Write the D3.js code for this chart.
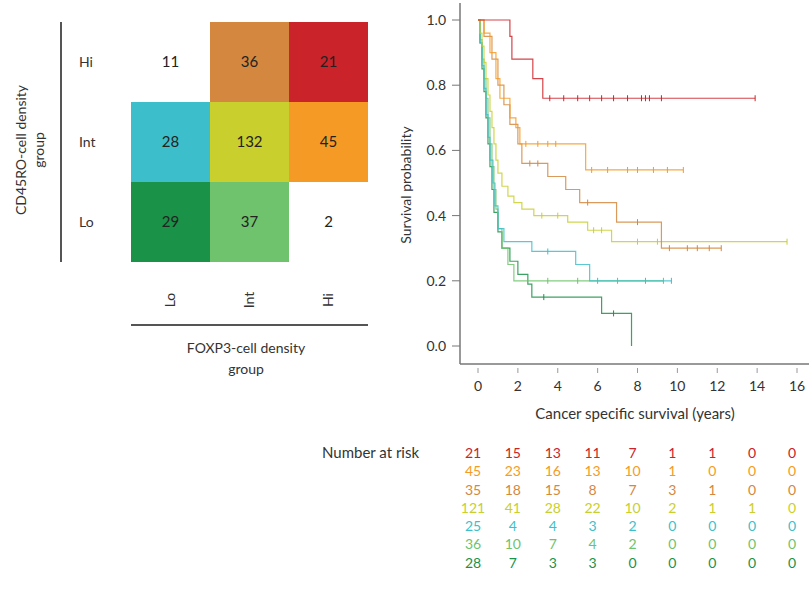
<!DOCTYPE html>
<html>
<head>
<meta charset="utf-8">
<script src="https://cdn.jsdelivr.net/npm/d3@7"></script>
<style>
  body { margin: 0; background: #fff; }
  text { font-family: Lato, "Open Sans", sans-serif; fill: #333; }
</style>
</head>
<body>
<svg id="chart" width="809" height="600"></svg>
<script>
// heatmap data
const foxp3Groups = ["Lo", "Int", "Hi"];
const cd45Groups = ["Hi", "Int", "Lo"];
// counts[row][col], rows = CD45RO Hi/Int/Lo, cols = FOXP3 Lo/Int/Hi
const counts = [
  [11, 36, 21],
  [28, 132, 45],
  [29, 37, 2]
];
// which cells have a survival curve
const cellKeys = [
  ["", "HiInt", "HiHi"],
  ["IntLo", "IntInt", "IntHi"],
  ["LoLo", "LoInt", ""]
];

// survival curves: [time, survival] steps
const kmHiHi = [[0,1],[1.6,0.95],[1.7,0.88],[2.75,0.82],[3.25,0.76]];
const kmIntHi = [[0,1],[0.3,0.96],[0.6,0.9],[0.9,0.82],[1.1,0.76],[1.6,0.70],[1.9,0.67],[2.1,0.62],[5.4,0.54]];
const kmHiInt = [[0,1],[0.3,0.95],[0.7,0.88],[1.0,0.80],[1.3,0.74],[1.6,0.68],[2.0,0.62],[2.2,0.56],[3.5,0.52],[4.4,0.48],[5.1,0.44],[6.95,0.38],[9.2,0.30]];
const kmIntInt = [[0,1],[0.1,0.96],[0.2,0.92],[0.3,0.87],[0.4,0.82],[0.5,0.77],[0.6,0.72],[0.7,0.67],[0.8,0.62],[0.9,0.57],[1.0,0.53],[1.2,0.49],[1.5,0.46],[1.8,0.44],[2.2,0.42],[2.8,0.40],[4.5,0.38],[5.5,0.355],[6.7,0.32]];
const kmIntLo = [[0,1],[0.1,0.93],[0.2,0.86],[0.3,0.79],[0.4,0.71],[0.5,0.64],[0.6,0.57],[0.75,0.50],[0.85,0.43],[1.0,0.36],[1.3,0.32],[2.7,0.29],[4.9,0.25],[5.6,0.20]];
const kmLoInt = [[0,1],[0.1,0.94],[0.2,0.88],[0.3,0.82],[0.4,0.76],[0.5,0.70],[0.6,0.62],[0.7,0.55],[0.8,0.48],[0.9,0.42],[1.0,0.36],[1.2,0.30],[1.5,0.25],[1.8,0.20]];
const kmLoLo = [[0,1],[0.1,0.93],[0.2,0.85],[0.3,0.78],[0.4,0.70],[0.5,0.62],[0.6,0.55],[0.7,0.48],[0.8,0.41],[1.0,0.35],[1.2,0.30],[1.6,0.26],[2.0,0.22],[2.5,0.19],[2.7,0.15],[6.2,0.10],[7.7,0.0]];

const kmEnd = { HiHi: 13.9, IntHi: 10.3, HiInt: 12.2, IntInt: 15.5, IntLo: 9.7, LoInt: 9.3, LoLo: 7.7 };
const censors = {
  HiHi: [3.6, 4.3, 5.0, 5.6, 6.2, 6.8, 7.5, 8.2, 8.4, 8.6, 9.2, 13.9],
  IntHi: [2.4, 3.0, 3.5, 3.9, 5.7, 6.5, 7.5, 8.0, 8.8, 9.5, 10.3],
  HiInt: [2.6, 3.0, 5.5, 8.0, 9.6, 10.5, 11.0, 11.6, 12.2],
  IntInt: [3.2, 4.0, 5.8, 6.2, 8.0, 9.0, 15.5],
  IntLo: [3.5, 6.0, 8.4, 9.7],
  LoInt: [3.5, 5.0, 7.0, 9.3],
  LoLo: [3.3, 6.8]
};

// number at risk table
const riskTimes = [0, 2, 4, 6, 8, 10, 12, 14, 16];
const riskOrder = ["HiHi", "IntHi", "HiInt", "IntInt", "IntLo", "LoInt", "LoLo"];
const riskHiHi = [21, 15, 13, 11, 7, 1, 1, 0, 0];
const riskIntHi = [45, 23, 16, 13, 10, 1, 0, 0, 0];
const riskHiInt = [35, 18, 15, 8, 7, 3, 1, 0, 0];
const riskIntInt = [121, 41, 28, 22, 10, 2, 1, 1, 0];
const riskIntLo = [25, 4, 4, 3, 2, 0, 0, 0, 0];
const riskLoInt = [36, 10, 7, 4, 2, 0, 0, 0, 0];
const riskLoLo = [28, 7, 3, 3, 0, 0, 0, 0, 0];

const yTicks = [0, 0.2, 0.4, 0.6, 0.8, 1.0];
const xTicks = [0, 2, 4, 6, 8, 10, 12, 14, 16];

// colours per group
const colors = {
  HiHi: "#cb232a",
  IntHi: "#f59b25",
  HiInt: "#d4883f",
  IntInt: "#c9cf2d",
  IntLo: "#3dbfcb",
  LoInt: "#6ec36c",
  LoLo: "#1a9248"
};

const curves = { HiHi: kmHiHi, IntHi: kmIntHi, HiInt: kmHiInt, IntInt: kmIntInt, IntLo: kmIntLo, LoInt: kmLoInt, LoLo: kmLoLo };
const risks = { HiHi: riskHiHi, IntHi: riskIntHi, HiInt: riskHiInt, IntInt: riskIntInt, IntLo: riskIntLo, LoInt: riskLoInt, LoLo: riskLoLo };

const svg = d3.select("#chart");

// ===== heatmap =====
const hx = d3.scaleBand().domain(foxp3Groups).range([131, 368]);
const hy = d3.scaleBand().domain(cd45Groups).range([22, 262]);

const cells = [];
cd45Groups.forEach((r, i) => {
  foxp3Groups.forEach((c, j) => {
    cells.push({ row: r, col: c, value: counts[i][j], key: cellKeys[i][j] });
  });
});

const heat = svg.append("g");
heat.selectAll("rect")
  .data(cells.filter(d => d.key))
  .enter()
  .append("rect")
  .attr("x", d => hx(d.col))
  .attr("y", d => hy(d.row))
  .attr("width", hx.bandwidth())
  .attr("height", hy.bandwidth())
  .attr("fill", d => colors[d.key]);

heat.selectAll(".cellLabel")
  .data(cells)
  .enter()
  .append("text")
  .attr("class", "cellLabel")
  .attr("x", d => hx(d.col) + hx.bandwidth() / 2)
  .attr("y", d => hy(d.row) + hy.bandwidth() / 2)
  .attr("dy", "0.35em")
  .attr("text-anchor", "middle")
  .attr("font-size", 15)
  .style("fill", "#222")
  .text(d => d.value);

// row labels
heat.selectAll(".rowLabel")
  .data(cd45Groups)
  .enter()
  .append("text")
  .attr("x", 79)
  .attr("y", d => hy(d) + hy.bandwidth() / 2)
  .attr("dy", "0.35em")
  .attr("font-size", 14)
  .text(d => d);

heat.append("line")
  .attr("x1", 61).attr("x2", 61)
  .attr("y1", 22).attr("y2", 262)
  .attr("stroke", "#555").attr("stroke-width", 2);

const yLab = heat.append("text")
  .attr("transform", "translate(28,150) rotate(-90)")
  .attr("text-anchor", "middle")
  .attr("font-size", 14);
yLab.append("tspan").attr("x", 0).attr("dy", "-0.15em").text("CD45RO-cell density");
yLab.append("tspan").attr("x", 0).attr("dy", "1.3em").text("group");

// column labels
heat.selectAll(".colLabel")
  .data(foxp3Groups)
  .enter()
  .append("text")
  .attr("transform", d => "translate(" + (hx(d) + hx.bandwidth() / 2) + ",300) rotate(-90)")
  .attr("text-anchor", "middle")
  .attr("dy", "0.35em")
  .attr("font-size", 14)
  .text(d => d);

heat.append("line")
  .attr("x1", 131).attr("x2", 368)
  .attr("y1", 325).attr("y2", 325)
  .attr("stroke", "#555").attr("stroke-width", 2);

const xLab = heat.append("text")
  .attr("text-anchor", "middle")
  .attr("font-size", 14);
xLab.append("tspan").attr("x", 246).attr("y", 353).text("FOXP3-cell density");
xLab.append("tspan").attr("x", 246).attr("y", 374).text("group");

// ===== survival plot =====
const x = d3.scaleLinear().domain([0, 16]).range([478, 797]);
const y = d3.scaleLinear().domain([0, 1]).range([346, 20]);

const km = svg.append("g");

km.append("line")
  .attr("x1", 460).attr("x2", 460).attr("y1", 3).attr("y2", 364)
  .attr("stroke", "#777").attr("stroke-width", 1.5);
km.append("line")
  .attr("x1", 460).attr("x2", 809).attr("y1", 364).attr("y2", 364)
  .attr("stroke", "#777").attr("stroke-width", 1.5);

km.selectAll(".ytick")
  .data(yTicks)
  .enter()
  .append("line")
  .attr("x1", 452).attr("x2", 460)
  .attr("y1", d => y(d)).attr("y2", d => y(d))
  .attr("stroke", "#777");
km.selectAll(".ylab")
  .data(yTicks)
  .enter()
  .append("text")
  .attr("x", 446)
  .attr("y", d => y(d))
  .attr("dy", "0.35em")
  .attr("text-anchor", "end")
  .attr("font-size", 14)
  .text(d => d3.format(".1f")(d));

km.selectAll(".xtick")
  .data(xTicks)
  .enter()
  .append("line")
  .attr("x1", d => x(d)).attr("x2", d => x(d))
  .attr("y1", 368).attr("y2", 373)
  .attr("stroke", "#999");
km.selectAll(".xlab")
  .data(xTicks)
  .enter()
  .append("text")
  .attr("x", d => x(d))
  .attr("y", 386)
  .attr("dy", "0.35em")
  .attr("text-anchor", "middle")
  .attr("font-size", 14)
  .text(d => d);

km.append("text")
  .attr("transform", "translate(411,185) rotate(-90)")
  .attr("text-anchor", "middle")
  .attr("font-size", 14)
  .text("Survival probability");

km.append("text")
  .attr("x", 635).attr("y", 414)
  .attr("dy", "0.35em")
  .attr("text-anchor", "middle")
  .attr("font-size", 15)
  .text("Cancer specific survival (years)");

// step function for a curve, extended to the last follow-up
function stepPoints(key) {
  const pts = curves[key].slice();
  const last = pts[pts.length - 1];
  if (kmEnd[key] > last[0]) pts.push([kmEnd[key], last[1]]);
  return pts;
}
function survAt(key, t) {
  let s = 1;
  curves[key].forEach(p => { if (p[0] <= t) s = p[1]; });
  return s;
}

const line = d3.line()
  .x(d => x(d[0]))
  .y(d => y(d[1]))
  .curve(d3.curveStepAfter);

// draw in reverse so red ends up on top
riskOrder.slice().reverse().forEach(key => {
  km.append("path")
    .datum(stepPoints(key))
    .attr("d", line)
    .attr("fill", "none")
    .attr("stroke", colors[key])
    .attr("stroke-width", 1.2)
    .attr("opacity", 0.85);

  km.selectAll(".cens" + key)
    .data(censors[key])
    .enter()
    .append("line")
    .attr("x1", d => x(d)).attr("x2", d => x(d))
    .attr("y1", d => y(survAt(key, d)) - 3)
    .attr("y2", d => y(survAt(key, d)) + 3)
    .attr("stroke", colors[key])
    .attr("stroke-width", 1);
});

// ===== number at risk =====
const riskY = d3.scaleBand().domain(riskOrder).range([444, 572]);

svg.append("text")
  .attr("x", 322).attr("y", riskY("HiHi") + riskY.bandwidth() / 2)
  .attr("dy", "0.35em")
  .attr("font-size", 15)
  .text("Number at risk");

riskOrder.forEach(key => {
  svg.selectAll(".risk" + key)
    .data(risks[key])
    .enter()
    .append("text")
    .attr("x", (d, i) => x(riskTimes[i]) - 5)
    .attr("y", riskY(key) + riskY.bandwidth() / 2)
    .attr("dy", "0.35em")
    .attr("text-anchor", "middle")
    .attr("font-size", 14)
    .style("fill", colors[key])
    .text(d => d);
});
</script>
</body>
</html>
